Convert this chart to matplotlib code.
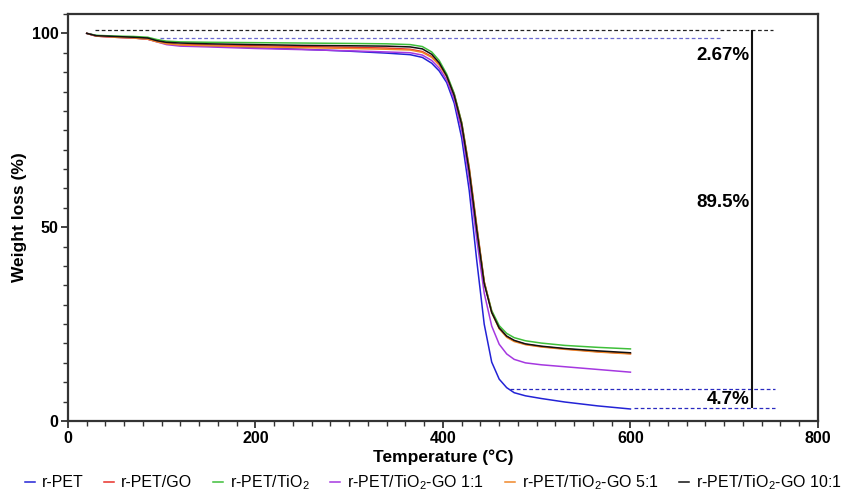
import matplotlib.pyplot as plt
from matplotlib.ticker import MultipleLocator

plt.rcParams['font.family'] = ['Liberation Sans', 'DejaVu Sans']
plt.rcParams['mathtext.default'] = 'regular'

temp = [20, 30, 50, 70, 85, 95, 105, 120, 150, 200, 250, 300, 340, 365, 378, 388, 396,
        404, 412, 420, 428, 436, 444, 452, 460, 468, 476, 488, 505, 530, 565, 600]

w_pet = [100, 99.4, 99.1, 98.9, 98.6, 98.0, 97.4, 97.0, 96.7, 96.3, 95.9, 95.4, 94.9, 94.5, 93.8, 92.3, 90.3,
         87.3, 82.0, 73.0, 59.5, 41.5, 25.0, 15.2, 10.8, 8.6, 7.3, 6.5, 5.8, 4.9, 3.9, 3.1]
w_go = [100, 99.3, 99.0, 98.8, 98.5, 97.9, 97.4, 97.1, 97.0, 96.8, 96.6, 96.4, 96.2, 95.9, 95.3, 94.0, 92.0,
        89.0, 84.3, 77.0, 65.5, 50.5, 36.0, 28.2, 24.0, 21.8, 20.7, 19.8, 19.2, 18.6, 17.9, 17.4]
w_tio2 = [100, 99.5, 99.3, 99.2, 99.0, 98.4, 98.0, 97.8, 97.7, 97.6, 97.5, 97.4, 97.3, 97.1, 96.6, 95.2, 93.0,
          89.5, 84.5, 77.0, 65.0, 50.0, 35.8, 28.5, 24.6, 22.6, 21.5, 20.7, 20.1, 19.5, 19.0, 18.6]
w_11 = [100, 99.3, 99.0, 98.8, 98.5, 97.8, 97.1, 96.7, 96.5, 96.1, 95.8, 95.5, 95.2, 95.0, 94.4, 93.0, 91.0,
        88.0, 83.0, 75.0, 62.5, 47.0, 33.0, 24.5, 19.8, 17.3, 15.9, 15.0, 14.5, 14.0, 13.3, 12.6]
w_51 = [100, 99.3, 99.0, 98.8, 98.5, 97.8, 97.3, 97.0, 96.8, 96.5, 96.3, 96.1, 95.9, 95.7, 95.1, 93.8, 91.8,
        88.8, 84.0, 76.5, 65.0, 50.0, 35.8, 28.0, 23.8, 21.6, 20.5, 19.7, 19.1, 18.5, 17.8, 17.3]
w_101 = [100, 99.4, 99.2, 99.0, 98.8, 98.1, 97.7, 97.5, 97.3, 97.1, 96.9, 96.8, 96.7, 96.5, 96.0, 94.6, 92.4,
         89.0, 84.0, 76.5, 64.5, 49.5, 35.5, 28.0, 24.0, 21.9, 20.8, 19.9, 19.3, 18.7, 18.1, 17.6]

series = [('r-PET', w_pet, '#2323d6'),
          ('r-PET/GO', w_go, '#e8302a'),
          ('r-PET/TiO$_2$', w_tio2, '#3fbf3a'),
          ('r-PET/TiO$_2$-GO 1:1', w_11, '#a538e0'),
          ('r-PET/TiO$_2$-GO 5:1', w_51, '#f0872a'),
          ('r-PET/TiO$_2$-GO 10:1', w_101, '#111111')]

fig = plt.figure(figsize=(8.67, 4.99), dpi=100)
ax = fig.add_axes([0.0784, 0.1563, 0.865, 0.8157])

for name, w, c in series:
    ax.plot(temp, w, color=c, lw=1.1, label=name)

# annotation guides
ax.hlines(100.8, 29, 752, colors='#222222', linestyles=(0, (3, 2)), lw=0.9)
ax.hlines(98.9, 98, 698, colors='#6a6ad0', linestyles=(0, (3, 2)), lw=0.9)
ax.hlines(8.2, 471, 754, colors='#2a2ac0', linestyles=(0, (3, 2)), lw=0.9)
ax.hlines(3.3, 604, 754, colors='#2a2ac0', linestyles=(0, (3, 2)), lw=0.9)
ax.vlines(730, 3.3, 100.8, colors='#111111', lw=1.5)
ax.text(727, 94.3, '2.67%', ha='right', va='center', fontsize=13.5, fontweight='bold')
ax.text(727, 56.3, '89.5%', ha='right', va='center', fontsize=13.5, fontweight='bold')
ax.text(727, 5.6, '4.7%', ha='right', va='center', fontsize=13.5, fontweight='bold')

ax.set_xlim(0, 800)
ax.set_ylim(0, 105)
ax.set_xticks([0, 200, 400, 600, 800])
ax.set_yticks([0, 50, 100])
ax.xaxis.set_minor_locator(MultipleLocator(20))
ax.yaxis.set_minor_locator(MultipleLocator(5))
ax.tick_params(which='major', direction='out', length=5, width=1.3, labelsize=11.5, pad=2,
               colors='#333333', labelcolor='black')
ax.tick_params(which='minor', direction='out', length=3.5, width=1.0, colors='#333333')
for lab in ax.get_xticklabels() + ax.get_yticklabels():
    lab.set_fontweight('bold')
for s in ax.spines.values():
    s.set_linewidth(1.6)
    s.set_color('#333333')

ax.set_xlabel('Temperature (°C)', fontsize=12.5, fontweight='bold', labelpad=3)
ax.set_ylabel('Weight loss (%)', fontsize=12.5, fontweight='bold', labelpad=3)

fig.legend(loc='lower center', bbox_to_anchor=(0.5, -0.015), ncol=6, frameon=False,
           fontsize=11.5, handlelength=0.6, handletextpad=0.45, columnspacing=1.3)

fig.savefig('out.png', dpi=100)
